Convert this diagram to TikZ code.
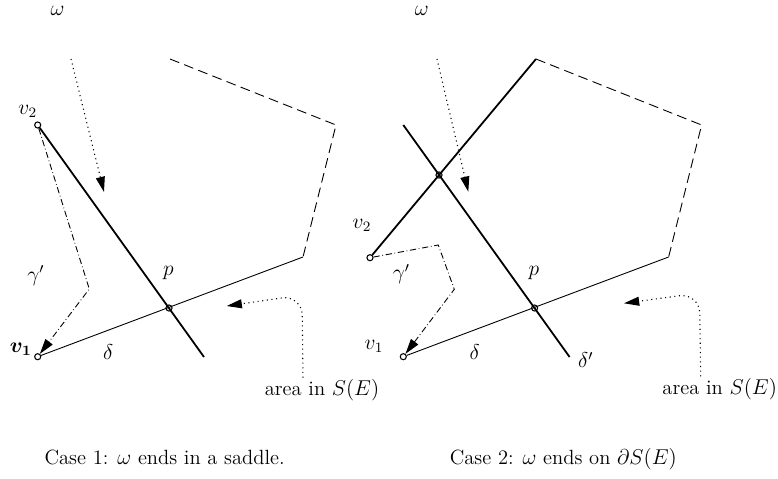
\documentclass[tikz,border=0pt]{standalone}
\usepackage{amsmath,amssymb}
\usepackage{tikz}
\usetikzlibrary{arrows.meta,calc}

\begin{document}
\begin{tikzpicture}[
    x=0.1965cm, y=-0.1965cm,
    every node/.style={font=\fontsize{11.5}{14}\selectfont, inner sep=1pt},
    vertex/.style={circle, draw, line width=0.6pt, inner sep=0pt, minimum size=3.4pt},
    flowline/.style={dotted, line width=0.6pt, -{Triangle[length=8.5pt, width=5pt]}},
    sepline/.style={line width=1pt},
    edgeline/.style={line width=0.5pt},
    boundary/.style={line width=0.5pt, dash pattern=on 5.5pt off 3pt},
    gammaline/.style={line width=0.5pt, dash pattern=on 3.5pt off 1.5pt on 0.4pt off 1.5pt,
                      -{Triangle[length=8.5pt, width=5pt]}},
]
    \useasboundingbox (0,0) rectangle (77.8,47.9);

    % Case 1: vertices and corners
    \node[vertex] (v2L) at (3.77,12.5) {};
    \node[vertex] (v1L) at (3.77,35.67) {};
    \node[vertex] (pL)  at (16.9,30.8) {};
    \coordinate (sL)  at (20.4,35.7);
    \coordinate (cL)  at (30.3,25.7);
    \coordinate (bL1) at (17.0,5.9);
    \coordinate (bL2) at (33.6,12.5);
    \coordinate (gL)  at (8.93,28.9);
    \coordinate (wL1) at (7.1,5.9);
    \coordinate (wL2) at (10.4,19.2);
    \coordinate (aL)  at (22.67,30.6);

    % Case 1: lines
    \draw[sepline] (v2L) -- (sL);
    \draw[edgeline] (v1L) -- (cL);
    \draw[boundary] (bL1) -- (bL2) -- (cL);
    \draw[gammaline] (v2L) -- (gL) -- (v1L);
    \draw[flowline] (wL1) -- (wL2);
    \node (areaL) at (32.2,39.05) {area in $S(E)$};
    \draw[flowline, rounded corners=4mm] ($(areaL.north)+(-1.9,0)$) -- (30.2,29.5) -- (aL);

    % Case 1: labels
    \node at (5.75,1.1) {$\omega$};
    \node at (2.78,11.17) {$v_2$};
    \node at (2.08,34.92) {$\boldsymbol{v_1}$};
    \node at (3.58,27.58) {$\gamma'$};
    \node at (16.85,27.25) {$p$};
    \node at (10.83,35.25) {$\delta$};
    \node[anchor=base] (capL) at (16.47,46.45) {Case 1: $\omega$ ends in a saddle.};

    % Case 2: vertices and corners
    \node[vertex] (v2R) at (37.0,25.77) {};
    \node[vertex] (v1R) at (40.33,35.67) {};
    \node[vertex] (qR)  at (43.9,17.5) {};
    \node[vertex] (pR)  at (53.46,30.8) {};
    \coordinate (tR)  at (53.6,5.9);
    \coordinate (uR)  at (40.33,12.5);
    \coordinate (sR)  at (56.96,35.7);
    \coordinate (bR2) at (70.16,12.5);
    \coordinate (cR)  at (66.86,25.7);
    \coordinate (gR1) at (43.83,24.5);
    \coordinate (gR2) at (45.43,28.93);
    \coordinate (wR1) at (43.7,5.9);
    \coordinate (wR2) at (46.83,19.17);
    \coordinate (aR)  at (62.4,30.33);

    % Case 2: lines
    \draw[sepline] (v2R) -- (tR);
    \draw[sepline] (uR) -- (sR);
    \draw[edgeline] (v1R) -- (cR);
    \draw[boundary] (tR) -- (bR2) -- (cR);
    \draw[gammaline] (v2R) -- (gR1) -- (gR2) -- (v1R);
    \draw[flowline] (wR1) -- (wR2);
    \node (areaR) at (71.97,38.92) {area in $S(E)$};
    \draw[flowline, rounded corners=4mm] ($(areaR.north)+(-1.9,0)$) -- (69.95,29.3) -- (aR);

    % Case 2: labels
    \node at (42.17,1.1) {$\omega$};
    \node at (36.2,22.5) {$v_2$};
    \node at (37.4,34.67) {$v_1$};
    \node at (40.13,27.42) {$\gamma'$};
    \node at (53.4,27.25) {$p$};
    \node at (47.47,35.17) {$\delta$};
    \node at (58.58,36.0) {$\delta'$};
    \node[anchor=base] (capR) at (56.33,46.4) {Case 2: $\omega$ ends on $\partial S(E)$};
\end{tikzpicture}
\end{document}
